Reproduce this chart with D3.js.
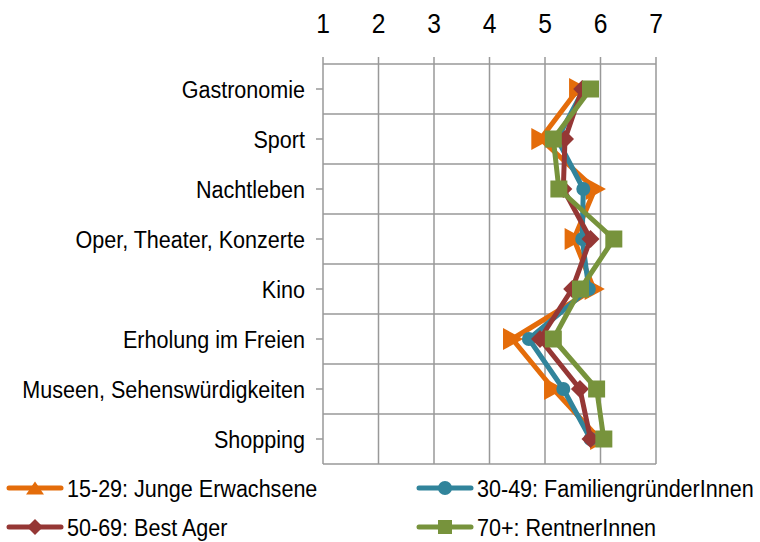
<!DOCTYPE html>
<html><head><meta charset="utf-8">
<script src="https://cdn.jsdelivr.net/npm/d3@7"></script>
<style>body{margin:0;background:#fff}svg{display:block;font-family:"Liberation Sans",Arial,sans-serif}</style>
</head><body><svg id="c" width="760" height="542"></svg>
<script>
const categories = ["Gastronomie","Sport","Nachtleben","Oper, Theater, Konzerte","Kino","Erholung im Freien","Museen, Sehenswürdigkeiten","Shopping"];
const xTicks = [1,2,3,4,5,6,7];
const seriesNames = ["15-29: Junge Erwachsene","30-49: FamiliengründerInnen","50-69: Best Ager","70+: RentnerInnen"];
const junge   = [5.60, 4.92, 5.90, 5.52, 5.88, 4.41, 5.15, 5.98];
const familie = [5.70, 5.22, 5.69, 5.67, 5.79, 4.71, 5.33, 5.82];
const bestAger= [5.67, 5.36, 5.33, 5.82, 5.49, 4.91, 5.63, 5.82];
const rentner = [5.82, 5.15, 5.25, 6.24, 5.64, 5.15, 5.93, 6.06];
const colors = ["#E46C0A","#31849B","#953735","#77933C"];
const markers = ["triangle","circle","diamond","square"];

const series = [junge, familie, bestAger, rentner].map((v,i)=>({name:seriesNames[i], values:v, color:colors[i], marker:markers[i]}));

const svg = d3.select("#c");
const pL = 323, pR = 656, pT = 64, pB = 464;
const x = d3.scaleLinear().domain([1,7]).range([pL,pR]);
const y = d3.scaleBand().domain(categories).range([pT,pB]);
const yc = c => y(c) + y.bandwidth()/2;
const SX = 0.88;

// grid
const g = svg.append("g");
g.selectAll(".vg").data(xTicks).join("line")
  .attr("x1",d=>x(d)).attr("x2",d=>x(d)).attr("y1",pT-7).attr("y2",pB)
  .attr("stroke","#999").attr("stroke-width",1.5);
const hb = categories.map(c=>y(c)).concat([pB]);
g.selectAll(".hg").data(hb).join("line")
  .attr("x1",pL).attr("x2",pR).attr("y1",d=>d).attr("y2",d=>d)
  .attr("stroke","#999").attr("stroke-width",1.5);
// y ticks
g.selectAll(".yt").data(categories).join("line")
  .attr("x1",pL-7).attr("x2",pL).attr("y1",d=>yc(d)).attr("y2",d=>yc(d))
  .attr("stroke","#999").attr("stroke-width",1.5);

// x tick labels (top)
svg.append("g").selectAll("text").data(xTicks).join("text")
  .attr("transform",d=>`translate(${x(d)},33) scale(${SX},1)`).attr("text-anchor","middle")
  .attr("font-size",28).attr("fill","#000").text(d=>d);

// category labels
svg.append("g").selectAll("text").data(categories).join("text")
  .attr("transform",d=>`translate(305,${yc(d)}) scale(${SX},1)`).attr("dy","0.36em").attr("text-anchor","end")
  .attr("font-size",24.5).attr("fill","#000").text(d=>d);

function markerPath(type, size, rightward){
  if(type==="triangle"){
    const s=size;
    if(rightward) return `M${-s*0.42},${-s/2}L${s*0.5},0L${-s*0.42},${s/2}Z`;
    return `M${-s/2},${s*0.36}L0,${-s*0.36}L${s/2},${s*0.36}Z`;
  }
  if(type==="diamond"){const s=size/2;return `M0,${-s}L${s},0L0,${s}L${-s},0Z`;}
  if(type==="square"){const s=size/2;return `M${-s},${-s}H${s}V${s}H${-s}Z`;}
  return d3.symbol(d3.symbolCircle, size*size*Math.PI/4)();
}
const msize = {triangle:22, circle:14, diamond:18, square:17};
const lsize = {triangle:18, circle:14, diamond:16, square:14};

const line = d3.line().x(d=>x(d.v)).y(d=>yc(d.c));
series.forEach(s=>{
  const pts = s.values.map((v,i)=>({v, c:categories[i]}));
  const gg = svg.append("g");
  gg.append("path").attr("d",line(pts)).attr("fill","none")
    .attr("stroke",s.color).attr("stroke-width",5).attr("stroke-linejoin","round");
  gg.selectAll("path.m").data(pts).join("path").attr("class","m")
    .attr("transform",d=>`translate(${x(d.v)},${yc(d.c)})`)
    .attr("d",markerPath(s.marker, msize[s.marker], true))
    .attr("fill",s.color);
});

// legend
const legPos = [[8,488],[418,488],[8,527],[418,527]];
series.forEach((s,i)=>{
  const [lx,ly]=legPos[i];
  const lg = svg.append("g").attr("transform",`translate(${lx},${ly})`);
  lg.append("line").attr("x1",1).attr("x2",53).attr("y1",0).attr("y2",0)
    .attr("stroke",s.color).attr("stroke-width",5).attr("stroke-linecap","round");
  lg.append("path").attr("transform","translate(27,0)")
    .attr("d",markerPath(s.marker, lsize[s.marker], false)).attr("fill",s.color);
  lg.append("text").attr("transform",`translate(59,0) scale(${SX},1)`).attr("dy","0.36em")
    .attr("font-size",24.5).attr("fill","#000").text(s.name);
});
</script></body></html>
